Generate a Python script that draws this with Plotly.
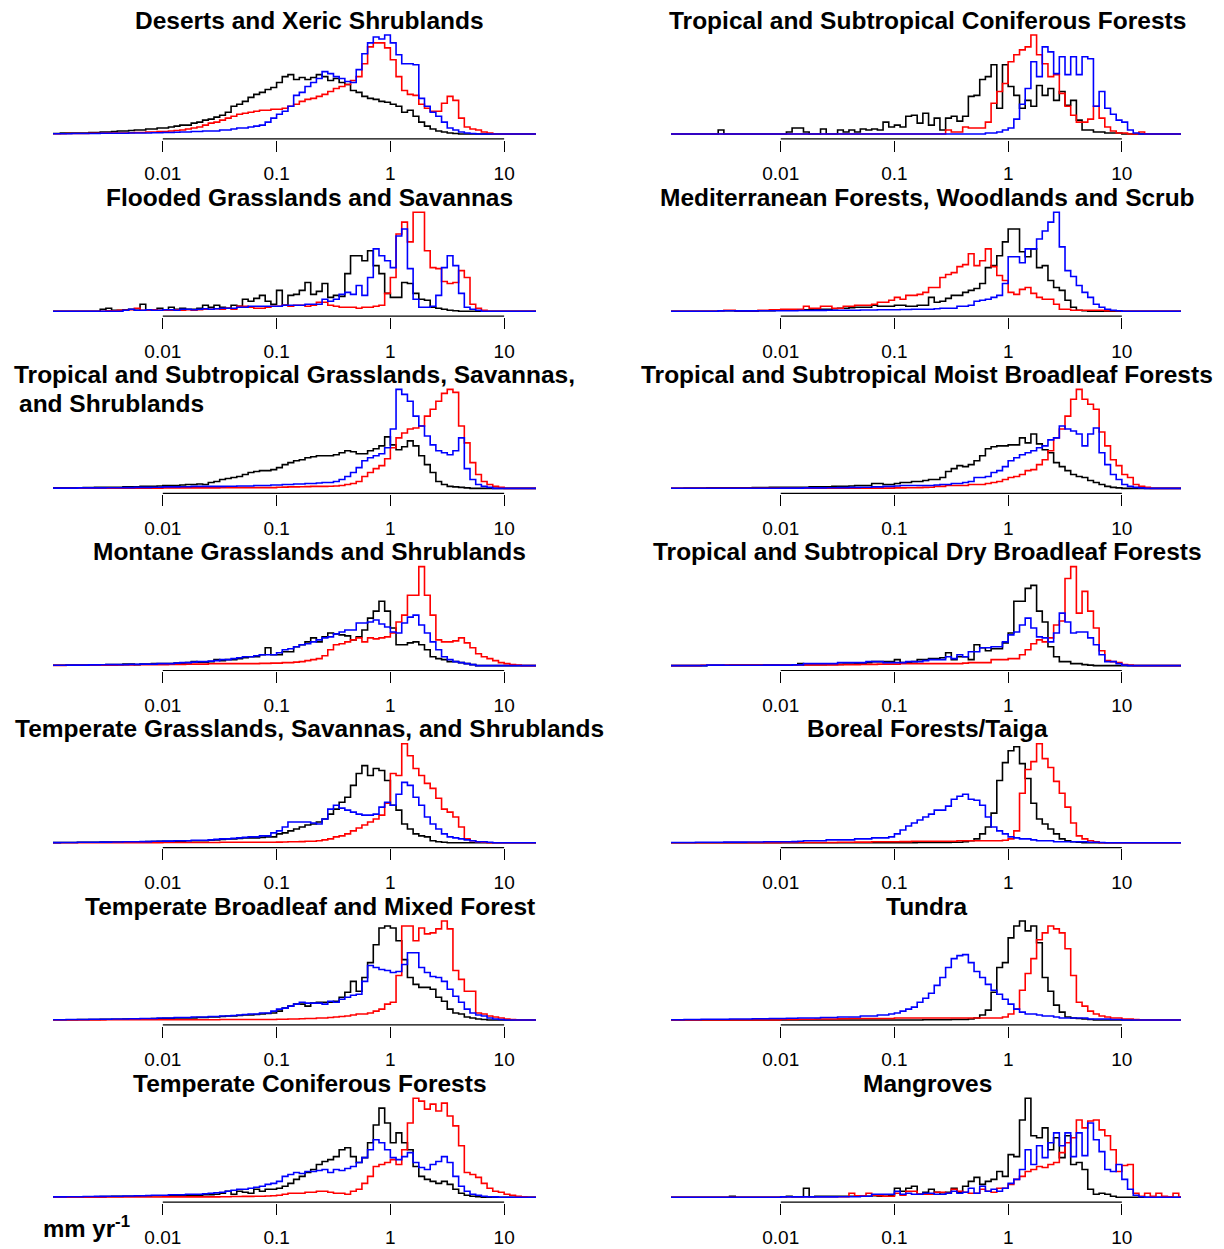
import plotly.graph_objects as go

W, H = 1224, 1249

# Histogram bins on a log10 scale: bin i spans 10**(BIN0 + i*BINW) .. 10**(BIN0 + (i+1)*BINW)
BIN0 = -3.0
BINW = 0.05

# Relative frequencies per bin (tallest series in each panel scaled to 100).
# Black, red and blue series for each biome, starting at bin 0.

deserts_black = [
    0.5, 0.5, 1, 1, 1, 1, 1, 1.5, 1.5, 2,
    2, 2.5, 3, 3, 3.5, 4, 4, 5, 5, 6,
    6, 7, 8, 9, 9, 11, 12, 14, 15, 17,
    19, 22, 28, 30, 33, 37, 40, 42, 45, 47,
    52, 58, 60, 55, 57, 55, 57, 60, 58, 54,
    56, 52, 50, 44, 42, 38, 36, 35, 33, 32,
    30, 28, 22, 24, 18, 12, 8, 5, 3, 2,
    1, 0.5]
deserts_red = [
    0.3, 0.3, 0.3, 0.5, 0.5, 0.5, 0.5, 0.7, 0.7, 0.8,
    1, 1, 1, 1, 1.2, 1.5, 1.5, 2, 2, 2.5,
    2.5, 3, 3.5, 4, 5, 6, 7, 9, 11, 12,
    14, 16, 18, 20, 21, 22, 23, 24, 24, 25,
    25, 26, 28, 30, 33, 35, 36, 38, 40, 43,
    46, 48, 50, 54, 58, 71, 88, 92, 92, 87,
    75, 58, 44, 40, 39, 30, 26, 23, 23, 31,
    38, 34, 16, 7, 5, 4, 2, 1]
deserts_blue = [
    0.3, 0.3, 0.3, 0.3, 0.5, 0.5, 0.5, 0.5, 0.5, 0.7,
    0.7, 0.7, 0.8, 0.8, 1, 1, 1, 1, 1.2, 1.2,
    1.5, 1.5, 1.7, 2, 2, 2.5, 2.5, 3, 3, 3,
    4, 4, 5, 6, 6, 7, 8, 9, 12, 16,
    20, 23, 28, 39, 42, 48, 52, 56, 63, 61,
    58, 56, 53, 52, 65, 81, 92, 98, 96, 100,
    92, 80, 71, 71, 70, 36, 28, 22, 18, 12,
    6, 4, 2, 1, 0.5]

flooded_black = [
    0, 0, 0, 0, 0, 0, 0, 0, 0, 2,
    3, 1, 1, 1.5, 2, 1, 7, 1, 1.5, 3,
    1.5, 4, 2, 3, 2, 2, 3, 6, 4, 6,
    4, 3, 6, 5, 12, 10, 13, 16, 10, 7,
    21, 6, 16, 17, 21, 29, 17, 20, 28, 14,
    16, 15, 38, 56, 56, 51, 61, 46, 38, 18,
    14, 14, 29, 28, 18, 12, 11, 4, 3, 2,
    1, 0.5]
flooded_red = [
    0, 0, 0, 0, 0, 0, 0, 0, 0, 0,
    0.5, 0.5, 1, 1, 1.5, 3, 1, 1, 1.5, 1,
    1, 1, 1.5, 1, 1.5, 1, 1.5, 2, 2, 2.5,
    2, 3, 2, 5, 5, 4, 3, 3, 4, 5,
    5, 6, 5, 6, 6, 5, 6, 9, 9, 6,
    5, 4, 4, 4, 3, 4, 4, 5, 6, 18,
    34, 78, 90, 70, 100, 100, 61, 44, 43, 30,
    28, 29, 41, 34, 7, 3, 1]
flooded_blue = [
    0, 0, 0, 0, 0, 0, 0, 0, 0, 0,
    0, 0, 0, 1, 2, 1, 1, 1.5, 1, 1,
    1.5, 1.5, 1, 2, 2, 1.5, 2, 2.5, 2, 2.5,
    3, 3, 3, 4, 4, 5, 5, 5, 5, 5,
    5, 6, 6, 6, 6, 7, 7, 7, 12, 10,
    12, 17, 19, 17, 26, 16, 34, 63, 56, 51,
    44, 76, 83, 43, 12, 4, 4, 5, 16, 44,
    56, 46, 18, 4, 2, 1]

tropgrass_black = [
    0.5, 0.5, 0.5, 0.5, 0.7, 0.7, 0.8, 0.8, 1, 1,
    1, 1.2, 1.2, 1.5, 1.5, 1.5, 2, 2, 2, 2.5,
    3, 3, 3, 3.5, 4, 4, 4.5, 4, 6, 7,
    9, 10, 11, 12, 14, 16, 17, 18, 18, 19,
    21, 24, 26, 28, 29, 31, 32, 33, 33, 33,
    34, 36, 38, 37, 35, 35, 38, 40, 43, 52,
    44, 39, 42, 48, 43, 33, 24, 16, 7, 4,
    2, 1.5, 1, 0.5]
tropgrass_red = [
    0.2, 0.2, 0.2, 0.2, 0.2, 0.2, 0.2, 0.2, 0.2, 0.2,
    0.3, 0.3, 0.3, 0.3, 0.3, 0.3, 0.3, 0.3, 0.3, 0.3,
    0.5, 0.5, 0.5, 0.5, 0.5, 0.5, 0.5, 0.5, 0.5, 0.5,
    0.8, 0.8, 0.8, 0.8, 0.8, 0.8, 0.8, 0.8, 0.8, 0.8,
    1.2, 1.3, 1.5, 1.5, 1.6, 1.8, 2, 2, 2, 2.2,
    2.5, 3, 4, 5, 7, 12, 16, 20, 23, 30,
    41, 51, 56, 60, 61, 63, 73, 80, 88, 96,
    100, 97, 63, 46, 26, 14, 7, 4, 2, 1]
tropgrass_blue = [
    0.3, 0.3, 0.3, 0.3, 0.3, 0.5, 0.5, 0.5, 0.5, 0.5,
    0.7, 0.7, 0.7, 0.8, 0.8, 1, 1, 1, 1.2, 1.2,
    1.5, 1.5, 1.5, 1.7, 1.7, 2, 2, 2, 2, 2,
    2, 2.2, 2.2, 2.5, 2.5, 2.5, 3, 3, 3, 3.5,
    3.5, 4, 4, 4.5, 4.5, 5, 5, 5.5, 6, 6,
    7, 9, 12, 16, 21, 28, 31, 33, 35, 41,
    60, 100, 95, 88, 73, 63, 53, 44, 38, 36,
    34, 38, 51, 20, 9, 4, 2, 1]

montane_black = [
    0.3, 0.3, 0.3, 0.5, 0.5, 0.5, 0.5, 0.7, 0.7, 0.8,
    1, 1, 1, 1.5, 1.5, 1, 1.5, 1.5, 2, 2,
    2, 2, 2.5, 2.5, 3, 4, 3.5, 3.5, 4, 6,
    5, 6, 6, 7, 8, 9, 9, 11, 18, 11,
    11, 14, 14, 19, 21, 24, 28, 24, 29, 33,
    32, 31, 30, 26, 29, 36, 48, 55, 65, 55,
    38, 21, 21, 23, 24, 21, 16, 9, 7, 6,
    4, 4, 3, 2, 1]
montane_red = [
    0.2, 0.2, 0.2, 0.3, 0.3, 0.3, 0.3, 0.5, 0.5, 0.5,
    0.5, 0.5, 0.7, 0.7, 0.7, 0.8, 0.8, 1, 1, 1,
    1, 1.2, 1.2, 1.2, 1.5, 1.5, 1.5, 1.5, 1.8, 2,
    2, 2, 2, 2, 2, 2, 2, 2.2, 2.2, 2.5,
    2.5, 3, 3, 3.5, 4, 5, 6, 7, 10, 16,
    21, 22, 24, 26, 28, 24, 28, 27, 28, 29,
    33, 44, 51, 71, 71, 100, 71, 51, 26, 24,
    24, 25, 28, 23, 18, 12, 9, 7, 5, 3,
    2, 1, 0.5]
montane_blue = [
    0.3, 0.3, 0.3, 0.5, 0.5, 0.5, 0.5, 0.7, 0.7, 0.8,
    1, 1, 1, 1, 1.2, 1.2, 1.5, 1.5, 1.5, 2,
    2, 2, 2.5, 3, 3, 3.5, 4, 4, 4.5, 5,
    6, 6, 7, 8, 9, 9, 10, 11, 11, 11,
    13, 16, 17, 19, 21, 22, 24, 26, 28, 29,
    32, 34, 36, 36, 43, 43, 44, 46, 42, 39,
    34, 33, 43, 49, 51, 41, 33, 24, 16, 9,
    6, 4, 3, 2, 1]

tempgrass_black = [
    0.2, 0.2, 0.3, 0.3, 0.3, 0.5, 0.5, 0.5, 0.5, 0.7,
    0.7, 0.7, 0.8, 0.8, 1, 1, 1, 1.2, 1.2, 1.5,
    1.5, 1.5, 1.7, 1.7, 2, 2, 2, 2, 2.5, 3,
    3.5, 4, 4, 4.5, 5, 5, 5, 5.5, 6, 6,
    9, 10, 12, 14, 16, 18, 19, 21, 24, 29,
    34, 41, 46, 58, 70, 78, 68, 75, 73, 63,
    38, 33, 19, 14, 9, 7, 6, 2, 1, 0.5]
tempgrass_red = [
    0.1, 0.1, 0.1, 0.1, 0.1, 0.1, 0.1, 0.1, 0.1, 0.1,
    0.2, 0.2, 0.2, 0.2, 0.2, 0.2, 0.2, 0.2, 0.2, 0.2,
    0.3, 0.3, 0.3, 0.3, 0.3, 0.3, 0.3, 0.3, 0.3, 0.3,
    0.5, 0.5, 0.5, 0.5, 0.5, 0.5, 0.5, 0.5, 0.5, 0.5,
    0.7, 0.8, 1, 1, 1.2, 1.5, 1.5, 2, 3, 4,
    6, 7, 9, 12, 15, 18, 21, 24, 28, 40,
    70, 68, 100, 88, 75, 68, 60, 55, 45, 34,
    31, 26, 16, 4, 2, 1, 0.5]
tempgrass_blue = [
    0.2, 0.2, 0.3, 0.3, 0.3, 0.5, 0.5, 0.5, 0.5, 0.7,
    0.7, 0.8, 0.8, 1, 1, 1, 1.2, 1.2, 1.5, 1.5,
    1.7, 1.7, 2, 2, 2, 2.5, 2.5, 2.5, 3, 3.5,
    4, 4, 4.5, 5, 5.5, 6, 6, 7, 7, 10,
    12, 16, 21, 21, 21, 21, 20, 19, 24, 34,
    38, 35, 33, 31, 29, 28, 28, 29, 36, 41,
    38, 49, 61, 58, 46, 38, 26, 19, 14, 9,
    6, 5, 4, 3, 2, 1, 1, 0.5]

tempbroad_black = [
    0.2, 0.2, 0.3, 0.3, 0.3, 0.5, 0.5, 0.5, 0.5, 0.7,
    0.7, 0.8, 0.8, 1, 1, 1, 1.2, 1.2, 1.5, 1.5,
    1.7, 1.7, 2, 2, 2, 2, 2.5, 2.5, 3, 3,
    3.5, 4, 4, 4.5, 5, 5, 5.5, 6, 6.5, 7,
    9, 12, 14, 16, 16, 14, 17, 18, 18, 18,
    19, 23, 28, 39, 29, 43, 58, 76, 93, 95,
    93, 80, 61, 43, 36, 33, 33, 31, 23, 19,
    11, 7, 6, 3, 2, 1, 0.5]
tempbroad_red = [
    0.1, 0.1, 0.1, 0.1, 0.1, 0.1, 0.1, 0.1, 0.1, 0.1,
    0.2, 0.2, 0.2, 0.2, 0.2, 0.2, 0.2, 0.2, 0.2, 0.2,
    0.3, 0.3, 0.3, 0.3, 0.3, 0.3, 0.3, 0.3, 0.3, 0.3,
    0.5, 0.5, 0.5, 0.5, 0.5, 0.5, 0.5, 0.5, 0.5, 0.5,
    0.7, 0.8, 1, 1, 1.2, 1.5, 1.5, 2, 2, 2.5,
    3, 3.5, 4, 5, 6, 6, 7, 9, 11, 16,
    18, 45, 95, 95, 80, 93, 87, 88, 92, 100,
    92, 50, 41, 29, 29, 7, 6, 4, 3, 2,
    1, 0.5]
tempbroad_blue = [
    0.3, 0.3, 0.3, 0.5, 0.5, 0.5, 0.5, 0.7, 0.7, 0.8,
    0.8, 1, 1, 1, 1.2, 1.2, 1.5, 1.5, 1.5, 2,
    2, 2, 2.5, 2.5, 2.5, 3, 3, 3, 3.5, 3.5,
    4, 4, 4.5, 5, 5.5, 6, 6, 7, 7, 9,
    11, 12, 14, 16, 18, 17, 17, 17, 16, 19,
    18, 21, 23, 25, 26, 39, 55, 53, 51, 50,
    48, 49, 56, 68, 68, 53, 48, 44, 43, 39,
    31, 24, 18, 11, 7, 5, 4, 2, 1, 0.5]

tempconif_black = [
    0.2, 0.2, 0.3, 0.3, 0.3, 0.5, 0.5, 0.5, 0.5, 0.7,
    0.7, 0.8, 0.8, 1, 1, 1, 1.2, 1.2, 1.5, 1.5,
    1.5, 1.7, 1.7, 2, 2, 2, 2, 2.5, 2.5, 3,
    4, 6, 3, 6, 5, 4, 8, 6, 8, 8,
    9, 11, 14, 18, 21, 25, 28, 33, 36, 38,
    41, 48, 50, 41, 35, 40, 55, 73, 90, 75,
    55, 65, 55, 48, 31, 21, 18, 16, 14, 16,
    13, 8, 4, 2, 1, 0.5]
tempconif_red = [
    0.1, 0.1, 0.1, 0.1, 0.1, 0.1, 0.1, 0.1, 0.1, 0.1,
    0.2, 0.2, 0.2, 0.2, 0.2, 0.2, 0.2, 0.2, 0.2, 0.2,
    0.3, 0.3, 0.3, 0.3, 0.3, 0.3, 0.3, 0.3, 0.3, 0.3,
    0.5, 0.5, 0.7, 0.7, 0.8, 0.8, 1, 1, 1.2, 1.5,
    2, 3, 4, 4, 4, 5, 5, 6, 6, 5,
    4, 4, 3, 6, 8, 14, 21, 31, 33, 35,
    38, 33, 48, 75, 100, 97, 89, 94, 87, 95,
    82, 72, 52, 25, 23, 20, 14, 9, 6, 5,
    3, 2, 1, 0.5]
tempconif_blue = [
    0.3, 0.3, 0.3, 0.5, 0.5, 0.5, 0.7, 0.7, 0.8, 0.8,
    1, 1, 1, 1.2, 1.2, 1.5, 1.5, 1.7, 2, 2,
    2, 2.5, 2.5, 2.5, 3, 3, 3, 3.5, 4, 4.5,
    5, 6, 7, 8, 8, 9, 10, 11, 13, 14,
    16, 21, 23, 25, 24, 26, 26, 27, 28, 25,
    28, 27, 29, 31, 35, 40, 48, 58, 55, 48,
    40, 38, 41, 45, 35, 30, 28, 33, 36, 41,
    35, 21, 11, 6, 3, 2, 1, 0.5, 0.3]

tropconif_black = [
    0, 0, 0, 0, 0, 0, 0, 0, 0, 4,
    0, 0, 0, 0, 0, 0, 0, 0, 0, 0,
    0, 2, 6, 6, 2, 0, 0, 5, 0, 0,
    4, 2, 4, 2, 5, 4, 5, 4, 12, 7,
    9, 7, 18, 19, 11, 21, 9, 16, 4, 16,
    18, 13, 18, 38, 39, 55, 58, 70, 26, 70,
    48, 39, 26, 34, 28, 49, 39, 46, 34, 43,
    29, 34, 14, 4, 4, 2, 2, 1, 1, 1]
tropconif_red = [
    0, 0, 0, 0, 0, 0, 0, 0, 0, 0,
    0, 0, 0, 0, 0, 0, 0, 0, 0, 0,
    0, 0, 0, 0, 0, 0, 0, 0, 0, 0,
    0, 0, 0, 0, 0, 0, 0, 0, 0, 0,
    0, 0, 0, 0, 0, 0, 0, 0, 0, 4,
    2, 2, 7, 6, 6, 6, 12, 31, 43, 51,
    73, 80, 85, 88, 100, 80, 71, 58, 60, 41,
    28, 19, 12, 12, 15, 28, 16, 7, 3, 1,
    1, 0, 0, 2, 0]
tropconif_blue = [
    0, 0, 0, 0, 0, 0, 0, 0, 0, 0,
    0, 0, 0, 0, 0, 0, 0, 0, 0, 0,
    0, 0, 0, 0, 0, 0, 0, 0, 0, 0,
    0, 0, 0, 0, 0, 0, 0, 0, 0, 0,
    0, 0, 0, 0, 0, 0, 0, 0, 0, 0,
    0, 0, 0, 0, 0, 0, 1, 1, 2, 4,
    6, 15, 30, 46, 73, 58, 88, 83, 61, 78,
    60, 78, 60, 78, 76, 28, 43, 26, 20, 14,
    12, 4, 1]

medit_black = [
    0, 0, 0, 0, 0, 0, 0, 0, 0, 0.5,
    0.5, 0.5, 0, 0, 0, 0, 0.5, 0.5, 0.5, 1,
    1, 1, 1, 1.5, 1.5, 1.5, 2, 2, 2, 2.5,
    3, 3, 3.5, 4, 4, 4, 6, 5, 5, 5,
    6, 6, 5, 5, 6, 6, 14, 9, 10, 13,
    16, 16, 19, 21, 23, 28, 44, 46, 56, 70,
    83, 83, 60, 55, 63, 44, 46, 31, 24, 21,
    11, 4, 1, 0.5]
medit_red = [
    0, 0, 0, 0, 0, 0, 0, 0, 0, 0.5,
    1, 1, 0.5, 0.5, 0.5, 0.5, 1, 1, 1.5, 1.5,
    2, 2, 2, 2, 5, 3, 3, 5, 5, 3,
    3, 5, 5, 6, 6, 6, 7, 9, 9, 11,
    14, 12, 16, 16, 17, 19, 24, 24, 34, 37,
    39, 45, 47, 58, 46, 51, 63, 45, 36, 31,
    19, 17, 22, 24, 18, 14, 12, 12, 7, 2,
    2, 1, 1, 1, 1, 1, 1, 0.5, 0.5, 0.5]
medit_blue = [
    0, 0, 0, 0, 0, 0, 0, 0, 0, 0.3,
    0.5, 0.5, 0.3, 0.3, 0.3, 0.3, 0.5, 0.5, 0.5, 0.5,
    0.5, 0.5, 0.5, 0.7, 0.7, 0.7, 0.8, 0.8, 1, 1,
    1, 1, 1, 1, 1.2, 1.2, 1.2, 1.5, 1.5, 1.5,
    1.5, 1.7, 1.7, 2, 2, 2, 2, 2.5, 3, 3,
    3, 5, 5, 6, 10, 11, 12, 14, 16, 28,
    55, 55, 49, 63, 63, 73, 81, 90, 100, 65,
    41, 35, 26, 19, 14, 7, 4, 2, 1, 0.5]

moist_black = [
    0.2, 0.2, 0.2, 0.3, 0.3, 0.3, 0.3, 0.5, 0.5, 0.5,
    0.5, 0.5, 0.7, 0.7, 0.7, 0.8, 0.8, 0.8, 1, 1,
    1, 1, 1.2, 1.2, 1.2, 1.5, 1.5, 1.5, 1.5, 2,
    2, 2, 2.5, 3, 3, 3, 5, 5, 4, 4,
    5, 6, 6, 7, 7, 8, 9, 9, 11, 17,
    20, 23, 22, 24, 28, 33, 40, 42, 43, 43,
    44, 44, 51, 46, 55, 45, 39, 36, 26, 22,
    18, 14, 12, 11, 8, 6, 4, 2, 1, 0.5]
moist_red = [
    0.1, 0.1, 0.1, 0.1, 0.1, 0.1, 0.1, 0.1, 0.1, 0.1,
    0.1, 0.1, 0.1, 0.1, 0.1, 0.1, 0.1, 0.1, 0.1, 0.1,
    0.2, 0.2, 0.2, 0.2, 0.2, 0.2, 0.2, 0.2, 0.2, 0.2,
    0.3, 0.3, 0.3, 0.3, 0.3, 0.3, 0.3, 0.3, 0.3, 0.3,
    0.5, 0.5, 0.7, 0.7, 0.8, 1, 1.2, 2, 2, 3,
    3, 3, 3, 4, 4, 4, 5, 6, 7, 9,
    11, 12, 14, 18, 19, 24, 29, 38, 51, 60,
    73, 90, 100, 90, 85, 80, 57, 43, 29, 23,
    14, 11, 4, 2, 1]
moist_blue = [
    0.1, 0.1, 0.1, 0.1, 0.1, 0.1, 0.1, 0.1, 0.1, 0.1,
    0.2, 0.2, 0.2, 0.2, 0.2, 0.2, 0.2, 0.2, 0.2, 0.2,
    0.3, 0.3, 0.3, 0.3, 0.5, 0.5, 0.5, 0.5, 0.7, 0.7,
    0.8, 0.8, 1, 1, 1.2, 1.2, 1.5, 1.5, 2, 2,
    2.5, 3, 3, 3, 3, 3, 3, 3.5, 4, 4,
    5, 5, 6, 7, 11, 11, 12, 16, 18, 22,
    28, 31, 34, 36, 38, 41, 43, 49, 51, 63,
    60, 58, 55, 43, 55, 61, 36, 24, 14, 9,
    4, 2, 1, 0.5]

dry_black = [
    0, 0, 0, 0, 0, 0, 0, 0.3, 0.3, 0.3,
    0.3, 0.5, 0.5, 0.5, 0.5, 0.5, 0.5, 0.7, 0.7, 0.7,
    0.7, 0.8, 0.8, 2, 1, 1, 1, 1, 1.2, 1.2,
    1.2, 1.5, 1.5, 2, 2, 3, 4, 4, 4, 4,
    6, 3, 3, 4, 6, 6, 7, 7, 8, 13,
    6, 9, 9, 6, 21, 18, 15, 17, 17, 23,
    33, 65, 65, 78, 81, 55, 44, 19, 9, 4,
    4, 2, 2, 1, 0.5]
dry_red = [
    0, 0, 0, 0, 0, 0, 0.3, 0.3, 0.3, 0.3,
    0.5, 0.5, 0.5, 0.5, 0.5, 0.5, 0.5, 0.5, 0.5, 0.5,
    0.7, 0.7, 0.7, 0.7, 0.7, 0.7, 0.7, 0.7, 0.7, 0.7,
    1, 1, 1, 1, 1.2, 1.2, 1.2, 1.5, 1.5, 1.5,
    1.5, 2, 2, 2, 2, 2, 2, 2, 2, 2,
    2, 2, 2.5, 3, 3, 3, 3, 6, 6, 6,
    7, 7, 11, 16, 22, 26, 24, 28, 41, 45,
    88, 100, 53, 75, 55, 38, 15, 5, 4, 3,
    1, 0.5]
dry_blue = [
    0, 0, 0, 0, 0, 0, 0, 0.5, 0.5, 0.5,
    0.3, 0.3, 0.3, 0.3, 0.3, 0.3, 0.3, 0.5, 0.5, 0.5,
    0.5, 0.5, 0.7, 0.7, 2, 2, 2, 2, 2, 2,
    3, 3, 3, 3, 3, 4, 4, 4, 3, 3,
    3, 3, 4, 4, 4, 5, 6, 6, 6, 9,
    7, 11, 9, 14, 14, 18, 18, 19, 19, 24,
    31, 34, 41, 48, 38, 29, 28, 24, 33, 53,
    44, 33, 34, 34, 28, 21, 11, 4, 4, 2,
    0.5]

boreal_black = [
    0, 0, 0, 0, 0, 0, 0, 0, 0, 0,
    0, 0, 0, 0, 0, 0, 0, 0, 0, 0,
    0, 0, 0, 0, 0, 0, 0, 0, 0, 0,
    0, 0, 0, 0, 0, 0, 0, 0, 0, 0,
    0.2, 0.2, 0.2, 0.2, 0.3, 0.3, 0.3, 0.3, 0.3, 0.3,
    0.5, 0.5, 1, 2, 4, 9, 16, 30, 63, 81,
    93, 97, 80, 65, 40, 24, 19, 14, 9, 4,
    2, 1, 0.5]
boreal_red = [
    0, 0, 0, 0, 0, 0, 0, 0, 0, 0,
    0.2, 0.2, 0.2, 0.2, 0.2, 0.2, 0.2, 0.2, 0.2, 0.2,
    0.3, 0.3, 0.3, 0.3, 0.3, 0.3, 0.3, 0.3, 0.3, 0.3,
    0.5, 0.5, 0.5, 0.7, 0.7, 0.7, 1, 1, 1, 1,
    1, 1.2, 1.2, 1.5, 1.5, 1.5, 1.5, 1.5, 1.5, 1.5,
    1.5, 2, 2, 2, 2, 2, 2, 2, 2, 2.5,
    4, 12, 50, 74, 82, 100, 85, 76, 62, 50,
    36, 20, 7, 4, 2, 1]
boreal_blue = [
    0.3, 0.3, 0.3, 0.3, 0.3, 0.5, 0.5, 0.5, 0.5, 0.5,
    0.7, 0.7, 0.7, 0.7, 0.8, 0.8, 0.8, 1, 1, 1,
    1, 1, 1.2, 1.5, 2, 2, 2, 2, 3, 3,
    3, 3, 3, 4, 4, 4, 5, 5, 5, 6,
    9, 13, 17, 20, 23, 26, 29, 33, 33, 37,
    44, 47, 49, 44, 43, 38, 26, 16, 12, 9,
    6, 5, 4, 4, 3, 2, 2, 2, 1, 1,
    1, 1, 1, 1, 0.5, 0.5, 0.3]

tundra_black = [
    0, 0, 0, 0, 0, 0, 0, 0, 0, 0,
    0, 0, 0, 0, 0, 0, 0, 0, 0, 0,
    0, 0, 0, 0, 0, 0, 0, 0, 0, 0,
    0, 0, 0, 0, 0, 0, 0, 0, 0, 0,
    0, 0, 0, 0, 0, 0.2, 0.2, 0.3, 0.3, 0.3,
    0.5, 0.5, 0.5, 1, 2, 5, 10, 28, 53, 58,
    83, 95, 100, 90, 95, 78, 43, 29, 15, 8,
    3, 2, 1.5, 1, 0.5]
tundra_red = [
    0, 0, 0, 0, 0, 0, 0, 0, 0, 0,
    0, 0, 0, 0, 0, 0, 0, 0, 0, 0,
    0.5, 0.5, 0.5, 0.7, 0.7, 0.7, 1, 1, 1, 1,
    1.2, 1.2, 1.5, 1.5, 1.5, 1.5, 1.5, 1.5, 1.5, 1.5,
    2, 2, 2, 2, 2, 2, 2, 2, 2, 2,
    2, 2, 2, 2, 2, 2, 2, 2, 2, 3,
    6, 11, 30, 47, 62, 81, 88, 95, 92, 88,
    72, 45, 18, 14, 9, 6, 4, 3, 2, 2,
    1, 1, 0.5]
tundra_blue = [
    0.3, 0.3, 0.3, 0.5, 0.5, 0.5, 0.7, 0.7, 0.7, 0.8,
    0.8, 1, 1, 1, 1, 1.2, 1.2, 1.2, 1.5, 1.5,
    1.5, 1.7, 1.7, 2, 2, 2, 2, 2.5, 2.5, 2.5,
    3, 3, 3, 3, 4, 4, 4, 5, 5, 6,
    7, 9, 11, 13, 18, 22, 27, 35, 43, 53,
    62, 65, 66, 58, 49, 43, 36, 30, 26, 21,
    16, 11, 8, 6, 6, 5, 4, 4, 3, 2,
    2, 2, 2, 2, 1, 1, 1, 1, 0.5, 0.5]

mangrove_black = [
    0, 0, 0, 0, 0, 0, 0, 0, 0, 0,
    0, 1, 0, 0, 0, 0, 0, 0, 0, 0,
    0.5, 1, 0.5, 0.5, 9, 0.5, 1, 1, 1, 1,
    1, 1, 1, 1, 1, 1, 1.5, 1, 1, 2,
    9, 6, 9, 11, 3, 5, 8, 5, 3, 5,
    9, 5, 11, 16, 20, 13, 16, 18, 26, 21,
    43, 41, 78, 100, 62, 60, 70, 48, 60, 40,
    62, 33, 35, 28, 8, 3, 4, 3, 1]
mangrove_red = [
    0, 0, 0, 0, 0, 0, 0, 0, 0, 0,
    0, 0, 0, 0, 0, 0, 0, 0, 0, 0,
    0.5, 0.5, 0.5, 0.5, 0.5, 0.5, 0.5, 0.5, 0.5, 0.5,
    0.5, 0.5, 4, 1.5, 1.5, 4, 2, 1.5, 1, 1,
    4, 2, 6, 6, 3, 3, 3, 5, 5, 4,
    8, 6, 5, 4, 4, 8, 6, 5, 9, 9,
    13, 18, 21, 26, 28, 31, 30, 33, 35, 45,
    55, 60, 78, 70, 77, 78, 68, 62, 48, 26,
    32, 33, 4, 1, 4, 1, 4, 1, 0.5, 4,
    0.5]
mangrove_blue = [
    0, 0, 0, 0, 0, 0, 0, 0, 0, 0,
    0, 0, 0, 0, 0, 0, 0, 0, 0, 0,
    0.3, 0.3, 0.3, 0.3, 0.3, 0.3, 0.3, 0.3, 0.3, 0.3,
    0.5, 0.5, 0.5, 0.5, 1, 1, 3, 3, 3, 3,
    6, 3, 4, 3, 3, 4, 4, 3, 3, 4,
    6, 4, 5, 9, 4, 11, 6, 8, 6, 9,
    14, 18, 28, 48, 33, 52, 40, 55, 65, 52,
    65, 41, 65, 42, 75, 58, 46, 28, 26, 33,
    18, 8, 2, 0.5]

tick_values = [0.01, 0.1, 1, 10]
tick_labels = ["0.01", "0.1", "1", "10"]

# (title, black, red, blue); first seven go in the left column, the rest in the right
panels = [
    ("Deserts and Xeric Shrublands", deserts_black, deserts_red, deserts_blue),
    ("Flooded Grasslands and Savannas", flooded_black, flooded_red, flooded_blue),
    ("Tropical and Subtropical Grasslands, Savannas,|and Shrublands",
     tropgrass_black, tropgrass_red, tropgrass_blue),
    ("Montane Grasslands and Shrublands", montane_black, montane_red, montane_blue),
    ("Temperate Grasslands, Savannas, and Shrublands", tempgrass_black, tempgrass_red, tempgrass_blue),
    ("Temperate Broadleaf and Mixed Forest", tempbroad_black, tempbroad_red, tempbroad_blue),
    ("Temperate Coniferous Forests", tempconif_black, tempconif_red, tempconif_blue),
    ("Tropical and Subtropical Coniferous Forests", tropconif_black, tropconif_red, tropconif_blue),
    ("Mediterranean Forests, Woodlands and Scrub", medit_black, medit_red, medit_blue),
    ("Tropical and Subtropical Moist Broadleaf Forests", moist_black, moist_red, moist_blue),
    ("Tropical and Subtropical Dry Broadleaf Forests", dry_black, dry_red, dry_blue),
    ("Boreal Forests/Taiga", boreal_black, boreal_red, boreal_blue),
    ("Tundra", tundra_black, tundra_red, tundra_blue),
    ("Mangroves", mangrove_black, mangrove_red, mangrove_blue),
]

SERIES_COLORS = ["#000000", "#ff0000", "#0000ff"]
FONT = "Liberation Sans, Arial, Helvetica, sans-serif"
TITLE_SIZE = 24.5

# Panel geometry in pixels
ROW_STEP = 177.2
COLS = [
    dict(x0=53, x1=536, xr=[-2.965, 1.28], title_x=309.5),
    dict(x0=671, x1=1181, xr=[-2.965, 1.52], title_x=927),
]
PX_PER_UNIT = 0.99


def step_xy(values, x_end):
    xs, ys = [], []
    for i, v in enumerate(values):
        xs.append(10 ** (BIN0 + BINW * i))
        ys.append(v)
    xs.append(10 ** (BIN0 + BINW * len(values)))
    ys.append(0)
    xs.append(x_end)
    ys.append(0)
    return xs, ys


fig = go.Figure()
layout = dict(
    width=W, height=H,
    margin=dict(l=0, r=0, t=0, b=0),
    paper_bgcolor="white", plot_bgcolor="white",
    showlegend=False,
    annotations=[],
)

for p, (title, k_vals, r_vals, b_vals) in enumerate(panels):
    col, row = divmod(p, 7)
    c = COLS[col]
    n = p + 1
    xa = "x" if n == 1 else f"x{n}"
    ya = "y" if n == 1 else f"y{n}"

    zero_px = 134 + ROW_STEP * row
    bottom_px = 139.5 + ROW_STEP * row
    top_px = 30 + ROW_STEP * row
    y_range = [-(bottom_px - zero_px) / PX_PER_UNIT, (zero_px - top_px) / PX_PER_UNIT]

    layout["xaxis" if n == 1 else f"xaxis{n}"] = dict(
        domain=[c["x0"] / W, c["x1"] / W], anchor=ya, type="log", range=c["xr"],
        tickvals=tick_values, ticktext=tick_labels, ticks="outside", ticklen=11,
        tickwidth=1.3, tickcolor="black", showline=False, showgrid=False,
        zeroline=False, ticklabelstandoff=6,
        tickfont=dict(family=FONT, size=19, color="black"),
    )
    layout["yaxis" if n == 1 else f"yaxis{n}"] = dict(
        domain=[1 - bottom_px / H, 1 - top_px / H], anchor=xa, range=y_range,
        visible=False, showgrid=False, zeroline=False,
    )

    # axis line spanning the labelled decades
    fig.add_trace(go.Scatter(
        x=[tick_values[0], tick_values[-1]], y=[y_range[0], y_range[0]],
        mode="lines", line=dict(color="black", width=2.4),
        xaxis=xa, yaxis=ya, hoverinfo="skip"))

    x_end = 10 ** (c["xr"][1] + 0.2)
    for vals, color in zip((k_vals, r_vals, b_vals), SERIES_COLORS):
        xs, ys = step_xy(vals, x_end)
        fig.add_trace(go.Scatter(
            x=xs, y=ys, mode="lines", line=dict(color=color, width=1.6, shape="hv"),
            xaxis=xa, yaxis=ya, hoverinfo="skip"))

    title_y = 1 - (20 + ROW_STEP * row) / H
    if "|" in title:
        first, second = title.split("|")
        layout["annotations"].append(dict(
            text=f"<b>{first}</b>", x=12 / W, y=title_y, xref="paper", yref="paper",
            xanchor="left", yanchor="middle", showarrow=False,
            font=dict(family=FONT, size=TITLE_SIZE, color="black")))
        layout["annotations"].append(dict(
            text=f"<b>{second}</b>", x=17 / W, y=1 - (49 + ROW_STEP * row) / H,
            xref="paper", yref="paper", xanchor="left", yanchor="middle",
            showarrow=False, font=dict(family=FONT, size=TITLE_SIZE, color="black")))
    else:
        layout["annotations"].append(dict(
            text=f"<b>{title}</b>", x=c["title_x"] / W, y=title_y,
            xref="paper", yref="paper", xanchor="center", yanchor="middle",
            showarrow=False, font=dict(family=FONT, size=TITLE_SIZE, color="black")))

# unit label under the left column
layout["annotations"].append(dict(
    text="<b>mm yr<sup>-1</sup></b>", x=41 / W, y=1 - 1227 / H,
    xref="paper", yref="paper", xanchor="left", yanchor="middle",
    showarrow=False, font=dict(family=FONT, size=24, color="black")))

fig.update_layout(**layout)
fig.write_html("out.html")
